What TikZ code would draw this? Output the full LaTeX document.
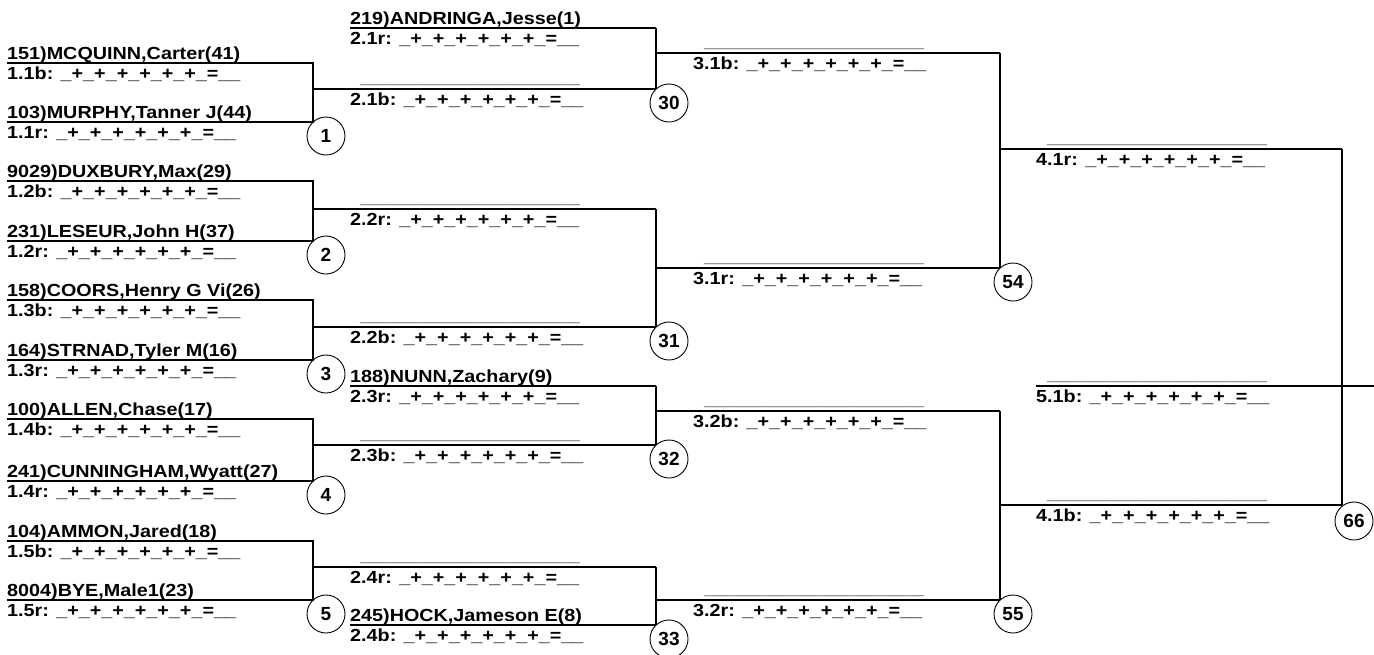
\documentclass[tikz,border=0pt]{standalone}
\usepackage{fontspec}
\setmainfont{Liberation Sans}[FakeStretch=1.13]
\newfontfamily\boutfont{Liberation Sans}
\usepackage{tikz}
\usetikzlibrary{calc}

\newcommand{\pts}{\_+\_+\_+\_+\_+\_+\_=\_\_}
\newcommand{\blankln}{\_\_\_\_\_\_\_\_\_\_\_\_\_\_\_\_\_\_\_\_}

\begin{document}
\begin{tikzpicture}[
    x=1pt, y=-1pt,
    bline/.style={draw, line width=1.1pt},
    txt/.style={anchor=base west, inner sep=0pt, font=\fontsize{17.5}{19}\selectfont\bfseries},
    wname/.style={txt},
    wscore/.style={txt},
    wblank/.style={txt, text=black!75},
    bout/.style={draw, circle, line width=0.9pt, minimum size=38pt, inner sep=0pt, font=\boutfont\fontsize{19}{20}\selectfont\bfseries},
]
\useasboundingbox (0,0) rectangle (1374,654);

% first round
\foreach \k/\yt/\yb/\yo/\na/\nb in {
    1/63/122/89/{151)MCQUINN,Carter(41)}/{103)MURPHY,Tanner J(44)},
    2/181/241/209/{9029)DUXBURY,Max(29)}/{231)LESEUR,John H(37)},
    3/300/360/327/{158)COORS,Henry G Vi(26)}/{164)STRNAD,Tyler M(16)},
    4/419/481/445/{100)ALLEN,Chase(17)}/{241)CUNNINGHAM,Wyatt(27)},
    5/541/600/567/{104)AMMON,Jared(18)}/{8004)BYE,Male1(23)}}{
    \draw[bline] (7,\yt) -- (313,\yt) -- (313,\yb) -- (7,\yb);
    \draw[bline] (313,\yo) -- (656,\yo);
    \node[wname]  (na\k) at (7,\yt-4)  {\na};
    \node[wscore] (sa\k) at (7,\yt+16) {1.\k b: \pts};
    \node[wname]  (nb\k) at (7,\yb-4)  {\nb};
    \node[wscore] (sb\k) at (7,\yb+16) {1.\k r: \pts};
    \node[bout]   (m\k)  at (326,\yb+14) {\k};
}

% second round
\foreach \k/\yt/\yb/\yo/\m in {1/28/89/53/30, 2/209/327/268/31, 3/386/445/411/32, 4/567/625/600/33}{
    \draw[bline] (656,\yt) -- (656,\yb);
    \draw[bline] (656,\yo) -- (1000,\yo);
    \node[wscore] (ra\k) at (350,\yt+16) {2.\k r: \pts};
    \node[wscore] (rb\k) at (350,\yb+16) {2.\k b: \pts};
    \node[bout]   (m\m)  at (669,\yb+14) {\m};
}
\draw[bline] (350,28) -- (656,28);
\draw[bline] (350,386) -- (656,386);
\draw[bline] (350,625) -- (656,625);
\node[wname]  (n21r) at (350,24)  {219)ANDRINGA,Jesse(1)};
\node[wblank] (n21b) at (360,83)  {\blankln};
\node[wblank] (n22r) at (360,203) {\blankln};
\node[wblank] (n22b) at (360,321) {\blankln};
\node[wname]  (n23r) at (350,382) {188)NUNN,Zachary(9)};
\node[wblank] (n23b) at (360,439) {\blankln};
\node[wblank] (n24r) at (360,561) {\blankln};
\node[wname]  (n24b) at (350,621) {245)HOCK,Jameson E(8)};

% third round
\foreach \k/\yt/\yb/\yo/\m in {1/53/268/149/54, 2/411/600/505/55}{
    \draw[bline] (1000,\yt) -- (1000,\yb);
    \draw[bline] (1000,\yo) -- (1342,\yo);
    \node[wblank] (ta\k) at (704,\yt-6)  {\blankln};
    \node[wscore] (qa\k) at (693,\yt+16) {3.\k b: \pts};
    \node[wblank] (tb\k) at (704,\yb-6)  {\blankln};
    \node[wscore] (qb\k) at (693,\yb+16) {3.\k r: \pts};
    \node[bout]   (m\m)  at (1013,\yb+14) {\m};
}

% final
\draw[bline] (1342,149) -- (1342,505);
\draw[bline] (1036,386) -- (1374,386);
\node[wblank] (f41r) at (1047,143) {\blankln};
\node[wscore] (g41r) at (1036,165) {4.1r: \pts};
\node[wblank] (f51b) at (1047,380) {\blankln};
\node[wscore] (g51b) at (1036,402) {5.1b: \pts};
\node[wblank] (f41b) at (1047,499) {\blankln};
\node[wscore] (g41b) at (1036,521) {4.1b: \pts};
\node[bout]   (m66)  at (1354,521) {66};

\end{tikzpicture}
\end{document}
